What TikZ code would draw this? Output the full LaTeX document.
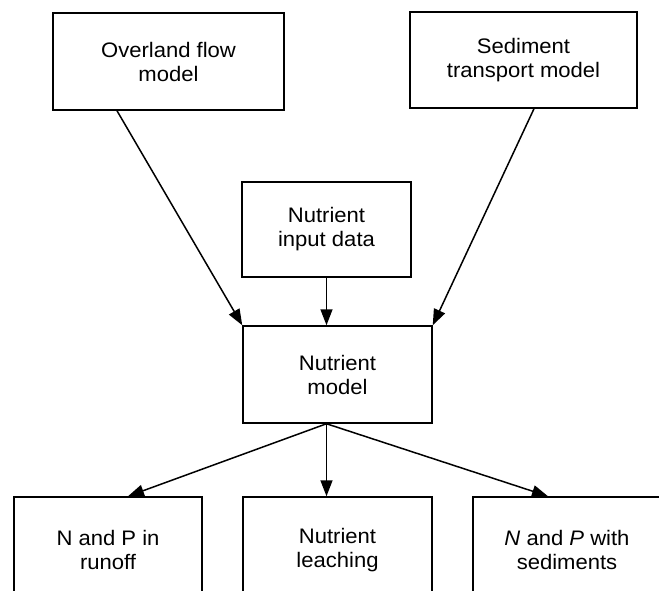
\documentclass[tikz,border=0pt]{standalone}
\usepackage{fontspec}
\setmainfont[FakeStretch=1.05]{Liberation Sans}
\usetikzlibrary{arrows.meta,calc}
\begin{document}
\begin{tikzpicture}[x=1pt,y=-1pt,
  box/.style={draw,line width=1.5pt,rectangle,inner sep=0pt,align=center,
    font=\fontsize{21}{24}\selectfont},
  conn/.style={line width=1.5pt,-{Triangle[length=16pt,width=12pt]}}]
\useasboundingbox (0,0) rectangle (659,591);
\clip (0,0) rectangle (659,591);
\node[box,minimum width=231pt,minimum height=97pt] (over) at (168.5,61.5) {Overland flow\\model};
\node[box,minimum width=227pt,minimum height=96pt] (sed) at (523.5,60) {Sediment\\transport model};
\node[box,minimum width=169pt,minimum height=95pt] (inp) at (326.5,229.5) {Nutrient\\input data};
\node[box,minimum width=189pt,minimum height=97pt] (mod) at (337.5,374.5) {Nutrient\\model};
\node[box,minimum width=188pt,minimum height=106pt] (lb) at (108,550) {N and P in\\runoff};
\node[box,minimum width=189pt,minimum height=106pt] (mb) at (337.5,550) {Nutrient\\leaching};
\node[box,minimum width=188pt,minimum height=106pt] (rb) at (567,550) {\textit{N} and \textit{P} with\\sediments};
\draw[conn] ($(over.south)+(-51.5,0)$) -- (mod.north west);
\draw[conn] ($(sed.south)+(10.5,0)$) -- (mod.north east);
\draw[conn] (inp.south) -- (inp.south |- mod.north);
\coordinate (mo) at ($(mod.south)+(-11,0)$);
\draw[conn] (mo) -- ($(lb.north)+(20,0)$);
\draw[conn] (mo) -- (mo |- mb.north);
\draw[conn] (mo) -- ($(rb.north)+(-19,0)$);
\end{tikzpicture}
\end{document}
